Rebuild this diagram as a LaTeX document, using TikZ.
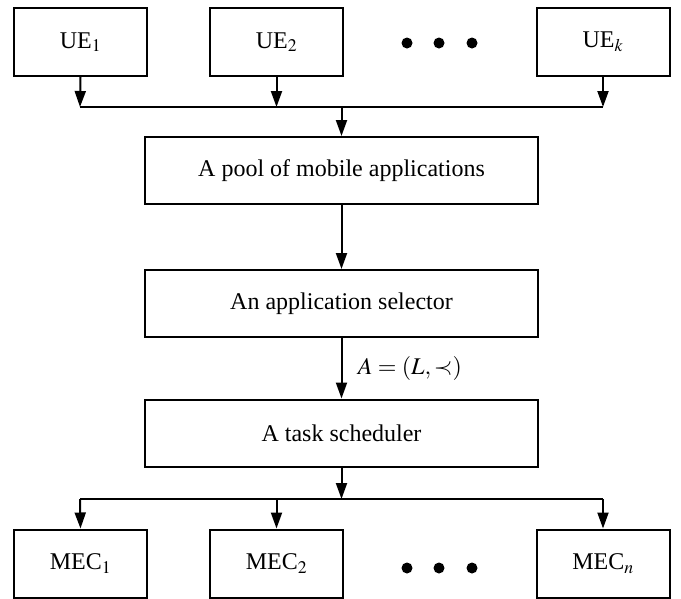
\documentclass[tikz,border=0pt]{standalone}
\usepackage{mathptmx}
\usepackage[no-math]{fontspec}
\setmainfont{Liberation Serif}
\usetikzlibrary{arrows.meta}
\begin{document}
\begin{tikzpicture}[x=1pt,y=-1pt,
  txt/.style={font=\fontsize{24}{28}\selectfont},
  blk/.style={draw,line width=2pt,minimum width=133pt,minimum height=68pt,inner sep=0pt,txt},
  wide/.style={blk,minimum width=393pt,minimum height=67pt},
  link/.style={line width=2pt},
  flow/.style={link,-{Triangle[length=16pt,width=11pt]}},
  dot/.style={circle,fill=black,inner sep=0pt,minimum size=11pt}]
\useasboundingbox (0,0) rectangle (681,598);
% user equipment row
\node[blk] (ue1) at (80.5,42) {UE$_1$};
\node[blk] (ue2) at (276.5,42) {UE$_2$};
\node[blk] (uek) at (603,42) {UE$_k$};
\node[dot] (d1) at (407,43) {};
\node[dot] (d2) at (439,43) {};
\node[dot] (d3) at (472,43) {};
% bus joining the devices
\coordinate (bl) at (80,107);
\coordinate (bm) at (341.5,107);
\coordinate (br) at (603,107);
\draw[link] (bl) -- (br);
\draw[flow] (ue1.south) -- (bl);
\draw[flow] (ue2.south) -- (ue2.south |- bl);
\draw[flow] (uek.south) -- (br);
% processing chain
\node[wide] (pool) at (341.5,170.5) {A pool of mobile applications};
\node[wide] (sel) at (341.5,303.5) {An application selector};
\node[wide] (sch) at (341.5,433) {A task scheduler};
\draw[flow] (bm) -- (pool.north);
\draw[flow] (pool.south) -- (sel.north);
\draw[flow] (sel.south) -- node[right,xshift=12pt,txt] (lab) {$A=(L,\prec)$} (sch.north);
% server row
\coordinate (cm) at (341.5,499);
\coordinate (cl) at (80,499);
\coordinate (cr) at (603,499);
\node[blk] (m1) at (80.5,563.5) {MEC$_1$};
\node[blk] (m2) at (276.5,563.5) {MEC$_2$};
\node[blk] (mn) at (603,563.5) {MEC$_n$};
\node[dot] (e1) at (407,568) {};
\node[dot] (e2) at (439,568) {};
\node[dot] (e3) at (472,568) {};
\draw[flow] (sch.south) -- (cm);
\draw[link] (cl) -- (cr);
\draw[flow] (cl) -- (m1.north);
\draw[flow] (m2.north |- cl) -- (m2.north);
\draw[flow] (cr) -- (mn.north);
\end{tikzpicture}
\end{document}
